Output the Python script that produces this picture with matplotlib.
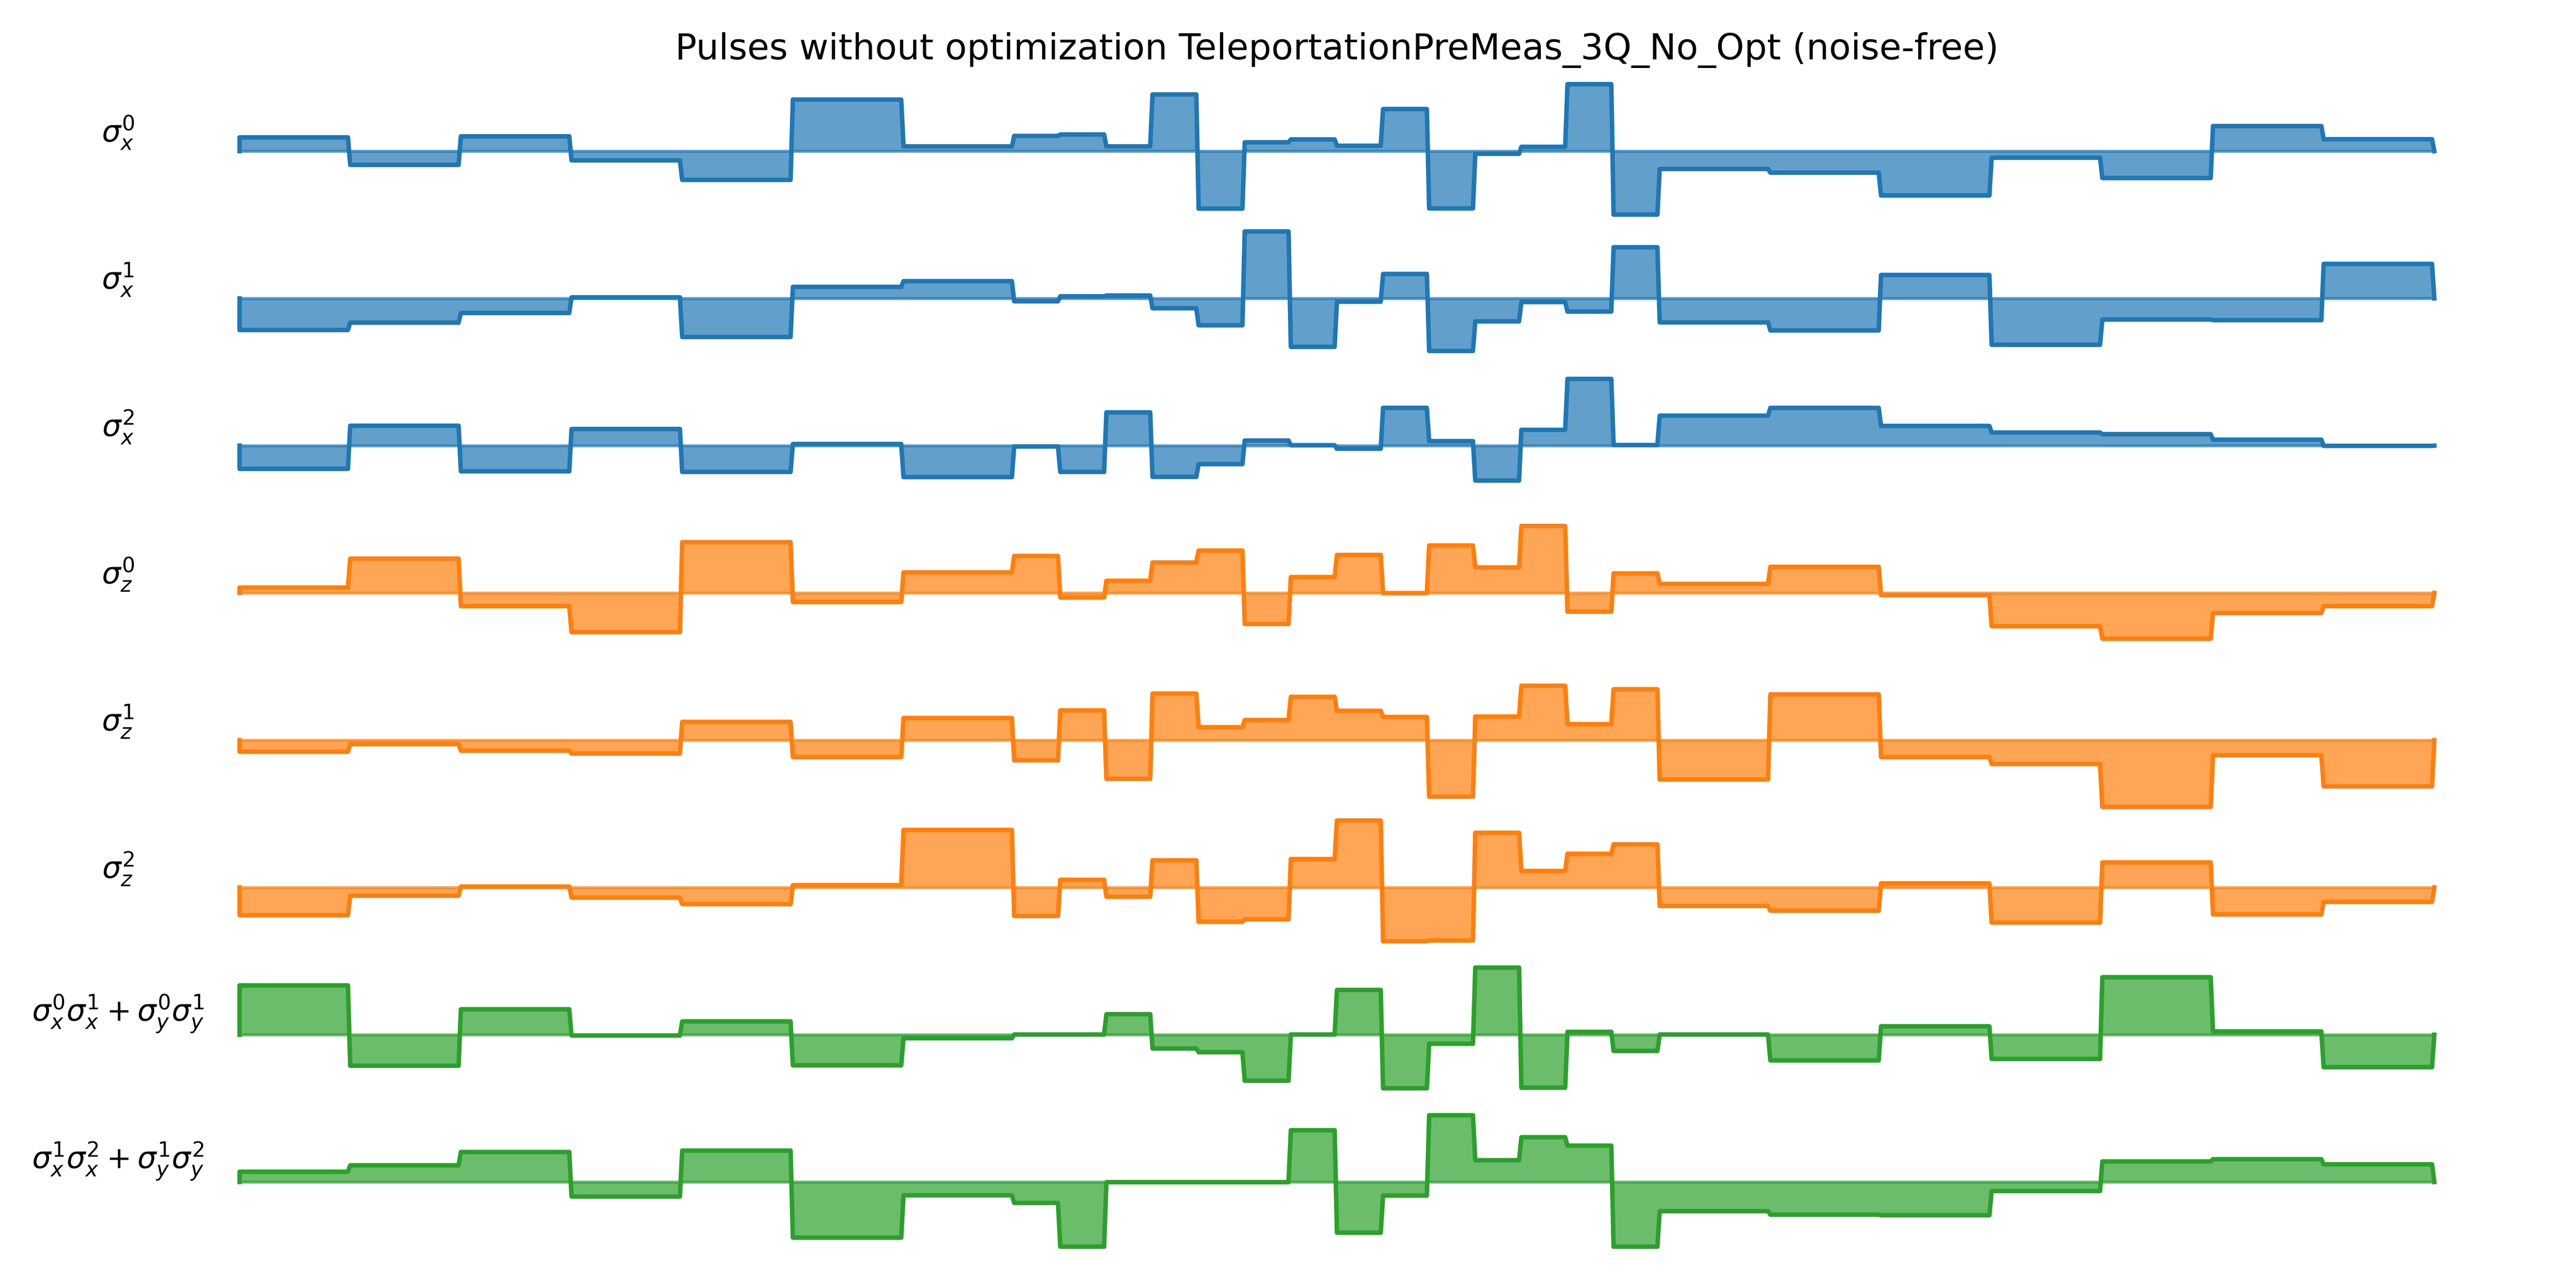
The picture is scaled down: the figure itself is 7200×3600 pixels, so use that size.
import numpy as np
import matplotlib
matplotlib.use("Agg")
import matplotlib.pyplot as plt

# --- segment durations (7 long, 14 short, 7 long) ---
seg_dur = [12] * 7 + [5] * 14 + [12] * 7
dt = 0.25

# --- pulse amplitudes per segment (arbitrary units, ~326 = full scale) ---
sx0 = [67, -67, 72, -45, -140, 251, 23,
       74, 81, 23, 276, -280, 43, 57, 26, 205, -279, -13, 21, 326, -309,
       -87, -105, -216, -32, -131, 122, 58]
sx1 = [-154, -118, -71, 5, -188, 56, 84,
       -14, 10, 14, -48, -131, 326, -236, -16, 119, -256, -112, -18, -64, 249,
       -117, -156, 114, -226, -103, -106, 168]
sx2 = [-113, 97, -125, 81, -128, 8, -153,
       -4, -128, 162, -152, -90, 25, 2, -15, 184, 22, -170, 77, 325, 3,
       146, 184, 96, 64, 56, 29, -1]
sz0 = [26, 167, -64, -191, 247, -44, 100,
       180, -22, 59, 148, 206, -151, 77, 185, -1, 231, 124, 326, -91, 95,
       44, 127, -11, -162, -223, -98, -64]
sz1 = [-56, -19, -51, -65, 89, -82, 108,
       -98, 145, -188, 227, 63, 98, 211, 143, 113, -275, 115, 265, 78, 248,
       -191, 223, -82, -116, -325, -73, -225]
sz2 = [-135, -40, 4, -49, -81, 11, 280,
       -139, 37, -45, 132, -167, -155, 138, 326, -262, -258, 266, 80, 164, 210,
       -90, -113, 20, -171, 122, -131, -70]
xy01 = [240, -151, 124, -4, 65, -149, -17,
        1, 1, 100, -67, -85, -224, 1, 218, -261, -44, 327, -258, 14, -79,
        1, -125, 41, -118, 280, 16, -158]
xy12 = [50, 81, 146, -71, 153, -271, -65,
        -102, -315, -1, -1, -1, -1, 252, -247, -66, 325, 106, 218, 177, -315,
        -142, -159, -162, -44, 100, 111, 86]

labels = [r'$\sigma_x^0$', r'$\sigma_x^1$', r'$\sigma_x^2$',
          r'$\sigma_z^0$', r'$\sigma_z^1$', r'$\sigma_z^2$',
          r'$\sigma_x^0\sigma_x^1 + \sigma_y^0\sigma_y^1$',
          r'$\sigma_x^1\sigma_x^2 + \sigma_y^1\sigma_y^2$']
pulses = [sx0, sx1, sx2, sz0, sz1, sz2, xy01, xy12]
colors = ['C0', 'C0', 'C0', 'C1', 'C1', 'C1', 'C2', 'C2']

# sample the piecewise-constant pulses on a time grid
n_per_seg = (np.array(seg_dur) / dt).astype(int)
T = sum(seg_dur)
t_samp = np.arange(n_per_seg.sum()) * dt
t = np.r_[0, t_samp, T]

fig, axes = plt.subplots(8, 1, figsize=(12, 6), sharex=True, sharey=True)
fig.subplots_adjust(left=0.0504, right=0.9876, top=0.94, bottom=0.0253, hspace=0.0)

for ax, p, lab, c in zip(axes, pulses, labels, colors):
    y = np.r_[0, np.repeat(p, n_per_seg), 0]
    ax.plot(t, y, color=c)
    ax.fill_between(t, 0, y, color=c, alpha=0.7)
    for s in ax.spines.values():
        s.set_visible(False)
    ax.set_xticks([])
    ax.set_yticks([])
    ax.set_ylabel(lab, rotation=0)

axes[0].set_title('Pulses without optimization TeleportationPreMeas_3Q_No_Opt (noise-free)')

fig.savefig('out.png', dpi=600)
